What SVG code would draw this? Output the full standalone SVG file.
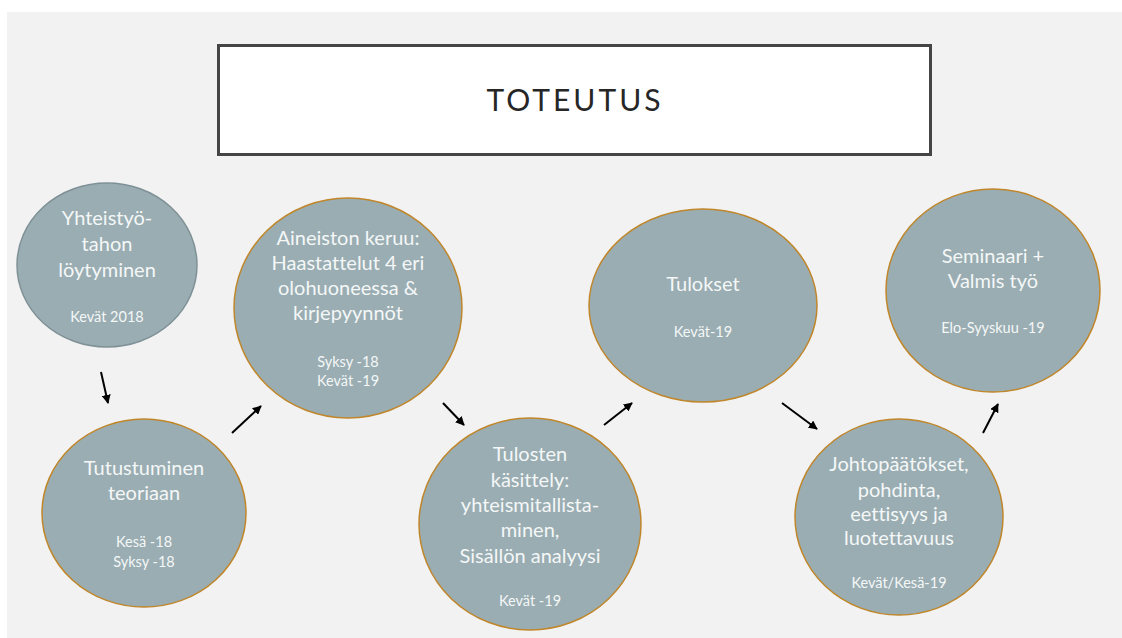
<svg xmlns="http://www.w3.org/2000/svg" width="1122" height="638" viewBox="0 0 1122 638">
<defs>
<marker id="ah" viewBox="0 0 10 10" refX="9" refY="5" markerWidth="4.5" markerHeight="4.5" orient="auto" markerUnits="strokeWidth">
<path d="M0,0 L10,5 L0,10 z" fill="#000"/>
</marker>
<style>
.node{fill:#9aadb2;stroke:#c0862a;stroke-width:1.5}
.n1{stroke:#7f9196}
.t{font-family:Lato,"Open Sans","DejaVu Sans",sans-serif;fill:#f4f7f7;text-anchor:middle;font-variant-ligatures:none;font-feature-settings:"liga" 0}
.big{font-size:20px}
.sm{font-size:14.5px}
.arr{stroke:#000;stroke-width:2;fill:none;marker-end:url(#ah)}
</style>
</defs>
<rect x="0" y="0" width="1122" height="638" fill="#ffffff"/>
<rect x="7" y="12" width="1115" height="626" fill="#f2f2f2"/>
<g id="title">
<rect x="218.5" y="45.5" width="712" height="109" fill="#ffffff" stroke="#454545" stroke-width="3"/>
<text x="575" y="111" font-family="Lato,'Open Sans',sans-serif" font-size="30" letter-spacing="3" text-anchor="middle" fill="#262626">TOTEUTUS</text>
</g>
<g id="connectors">
<line class="arr" x1="101" y1="372" x2="108" y2="403"/>
<line class="arr" x1="232" y1="433" x2="261" y2="406"/>
<line class="arr" x1="443" y1="403" x2="464" y2="425"/>
<line class="arr" x1="604" y1="425" x2="632" y2="403"/>
<line class="arr" x1="782" y1="403" x2="817" y2="429"/>
<line class="arr" x1="983" y1="433" x2="998" y2="404"/>
</g>
<g id="n1">
<ellipse class="node n1" cx="107" cy="265" rx="90" ry="82"/>
<text class="t big" x="107" y="225">Yhteistyö-</text>
<text class="t big" x="107" y="251">tahon</text>
<text class="t big" x="107" y="277">löytyminen</text>
<text class="t sm" x="107" y="322">Kevät 2018</text>
</g>
<g id="n2">
<ellipse class="node" cx="144" cy="513" rx="102" ry="94"/>
<text class="t big" x="144" y="475">Tutustuminen</text>
<text class="t big" x="144" y="500">teoriaan</text>
<text class="t sm" x="144" y="547">Kesä -18</text>
<text class="t sm" x="144" y="567">Syksy -18</text>
</g>
<g id="n3">
<ellipse class="node" cx="348" cy="308" rx="114" ry="110"/>
<text class="t big" x="348" y="245">Aineiston keruu:</text>
<text class="t big" x="348" y="270">Haastattelut 4 eri</text>
<text class="t big" x="348" y="295">olohuoneessa &amp;</text>
<text class="t big" x="348" y="320">kirjepyynnöt</text>
<text class="t sm" x="348" y="367">Syksy -18</text>
<text class="t sm" x="348" y="386">Kevät -19</text>
</g>
<g id="n4">
<ellipse class="node" cx="530" cy="524" rx="111" ry="106"/>
<text class="t big" x="530" y="461">Tulosten</text>
<text class="t big" x="530" y="487">käsittely:</text>
<text class="t big" x="530" y="512">yhteismitallista-</text>
<text class="t big" x="530" y="537">minen,</text>
<text class="t big" x="530" y="563">Sisällön analyysi</text>
<text class="t sm" x="530" y="606">Kevät -19</text>
</g>
<g id="n5">
<ellipse class="node" cx="703" cy="305.5" rx="114" ry="96.5"/>
<text class="t big" x="703" y="291">Tulokset</text>
<text class="t sm" x="703" y="337">Kevät-19</text>
</g>
<g id="n6">
<ellipse class="node" cx="899" cy="517" rx="104" ry="98"/>
<text class="t big" x="899" y="471">Johtopäätökset,</text>
<text class="t big" x="899" y="497">pohdinta,</text>
<text class="t big" x="899" y="521">eettisyys ja</text>
<text class="t big" x="899" y="545">luotettavuus</text>
<text class="t sm" x="899" y="588">Kevät/Kesä-19</text>
</g>
<g id="n7">
<ellipse class="node" cx="993" cy="290.5" rx="107" ry="101.5"/>
<text class="t big" x="993" y="263">Seminaari +</text>
<text class="t big" x="993" y="288">Valmis työ</text>
<text class="t sm" x="993" y="333">Elo-Syyskuu -19</text>
</g>
</svg>
